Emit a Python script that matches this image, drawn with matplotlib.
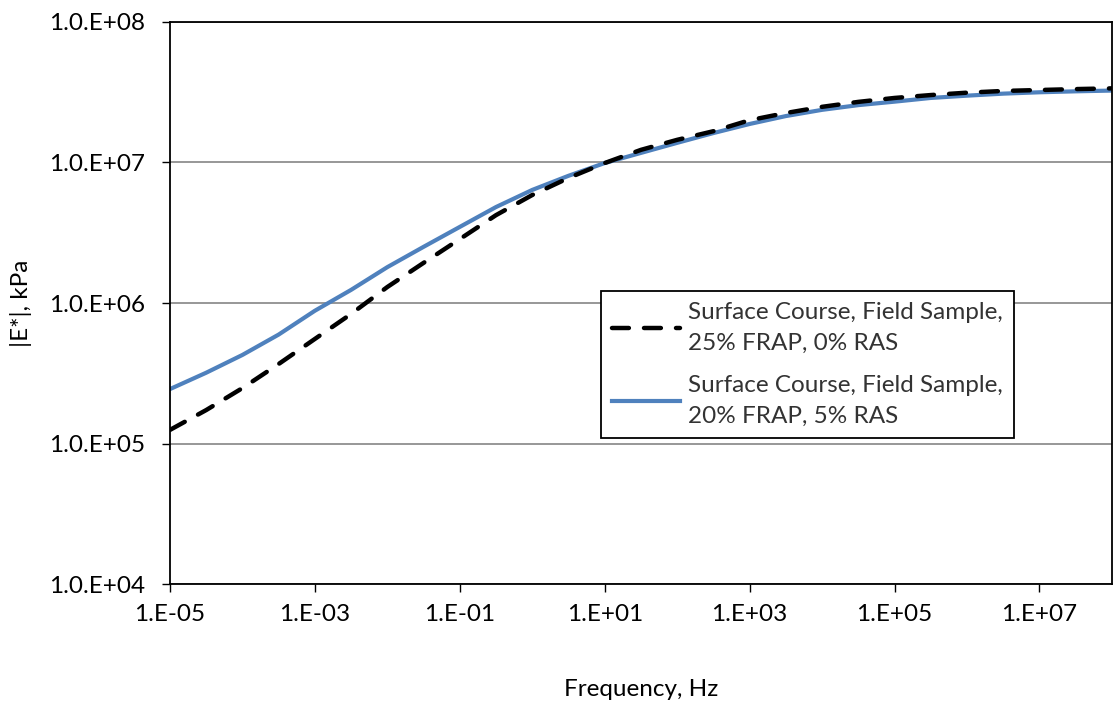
import numpy as np
import matplotlib
matplotlib.use('Agg')
import matplotlib.pyplot as plt
from matplotlib.ticker import FixedLocator, FuncFormatter, NullLocator

# half-decade frequencies, Hz
freq = [1e-5, 3.16e-5, 1e-4, 3.16e-4, 1e-3, 3.16e-3, 1e-2, 3.16e-2, 1e-1,
        3.16e-1, 1e0, 3.16e0, 1e1, 3.16e1, 1e2, 3.16e2, 1e3, 3.16e3, 1e4,
        3.16e4, 1e5, 3.16e5, 1e6, 3.16e6, 1e7, 3.16e7, 1e8]

# |E*| in kPa
e_frap25 = [1.25e5, 1.73e5, 2.48e5, 3.68e5, 5.55e5, 8.36e5, 1.30e6, 1.93e6,
            2.85e6, 4.22e6, 5.87e6, 7.76e6, 9.91e6, 1.23e7, 1.45e7, 1.67e7,
            2.00e7, 2.25e7, 2.49e7, 2.70e7, 2.88e7, 3.02e7, 3.14e7, 3.23e7,
            3.28e7, 3.33e7, 3.37e7]
e_frap20 = [2.44e5, 3.19e5, 4.27e5, 5.96e5, 8.81e5, 1.24e6, 1.80e6, 2.51e6,
            3.48e6, 4.82e6, 6.38e6, 8.04e6, 9.91e6, 1.17e7, 1.38e7, 1.62e7,
            1.88e7, 2.14e7, 2.37e7, 2.56e7, 2.71e7, 2.88e7, 2.99e7, 3.09e7,
            3.16e7, 3.21e7, 3.25e7]

lab_frap25 = 'Surface Course, Field Sample,\n25% FRAP, 0% RAS'
lab_frap20 = 'Surface Course, Field Sample,\n20% FRAP, 5% RAS'

xticks = [1e-5, 1e-3, 1e-1, 1e1, 1e3, 1e5, 1e7]
yticks = [1e4, 1e5, 1e6, 1e7, 1e8]

plt.rcParams['font.family'] = ['Lato', 'DejaVu Sans']
plt.rcParams['font.size'] = 17.5

fig = plt.figure(figsize=(11.18, 7.02), dpi=100)
ax = fig.add_axes([0.152, 0.168, 0.8426, 0.8007])

ax.plot(freq, e_frap25, color='black', lw=3.2, dashes=(3.8, 3.4),
        dash_capstyle='round', label=lab_frap25, zorder=3)
ax.plot(freq, e_frap20, color='#4F81BD', lw=3.0, label=lab_frap20, zorder=2)

ax.set_xscale('log')
ax.set_yscale('log')
ax.set_xlim(1e-5, 1e8)
ax.set_ylim(1e4, 1e8)

ax.xaxis.set_major_locator(FixedLocator(xticks))
ax.xaxis.set_minor_locator(NullLocator())
ax.yaxis.set_major_locator(FixedLocator(yticks))
ax.yaxis.set_minor_locator(NullLocator())

def fmt_x(v, pos):
    e = int(round(np.log10(v)))
    return '1.E%s%02d' % ('+' if e >= 0 else '-', abs(e))

def fmt_y(v, pos):
    e = int(round(np.log10(v)))
    return '1.0.E+%02d' % e

ax.xaxis.set_major_formatter(FuncFormatter(fmt_x))
ax.yaxis.set_major_formatter(FuncFormatter(fmt_y))

ax.tick_params(direction='out', length=6, width=1, colors='black')
ax.tick_params(axis='x', pad=8)
ax.tick_params(axis='y', pad=12)
ax.grid(axis='y', color='#858585', lw=1.2)
ax.set_axisbelow(True)
for s in ax.spines.values():
    s.set_linewidth(1.3)
    s.set_color('black')

ax.set_xlabel('Frequency, Hz', labelpad=39)
ax.set_ylabel('|E*|, kPa', labelpad=12)

leg = ax.legend(loc='upper left', bbox_to_anchor=(0.4575, 0.5214),
                frameon=True, fancybox=False, edgecolor='black',
                framealpha=1, handlelength=2.8, handletextpad=0.35,
                labelspacing=0.85, borderpad=0.45, borderaxespad=0,
                fontsize=17.5)
leg.get_frame().set_linewidth(1.3)
for t in leg.get_texts():
    t.set_color('#333333')
    t.set_linespacing(1.6)

fig.savefig('out.png', dpi=100)
